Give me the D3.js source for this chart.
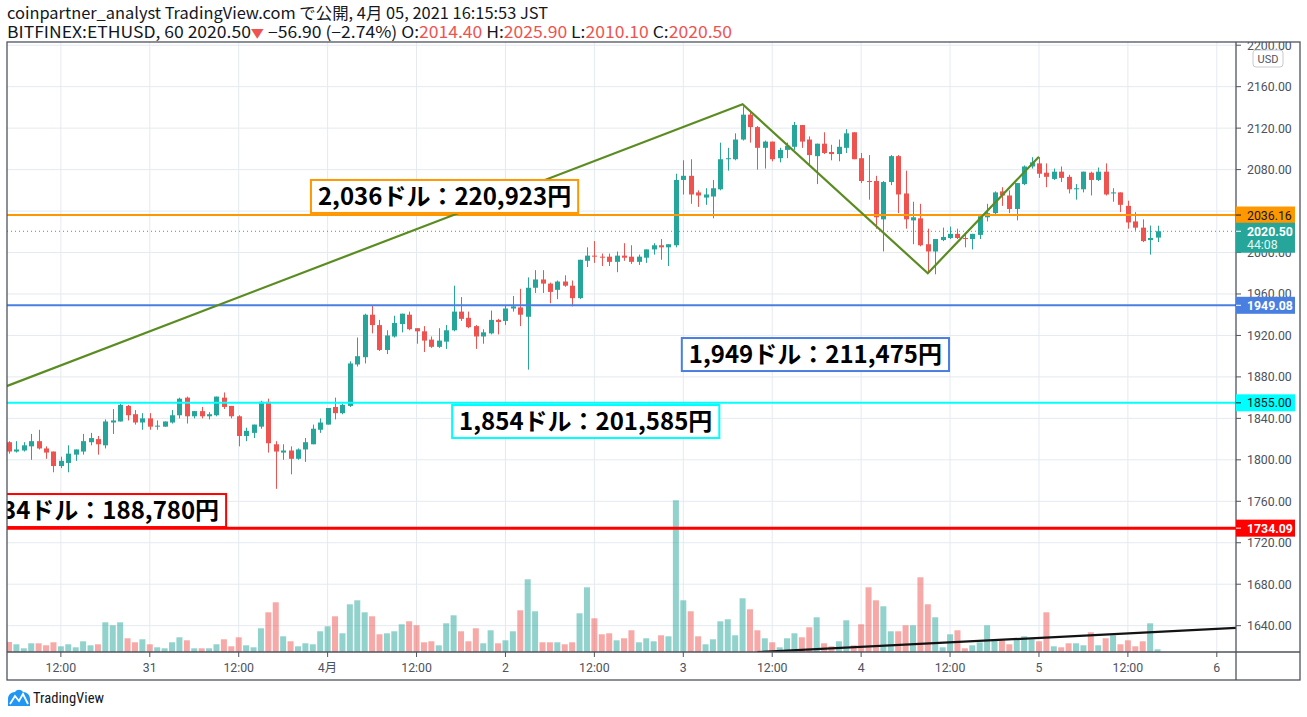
<!DOCTYPE html>
<html><head><meta charset="utf-8">
<script src="https://cdn.jsdelivr.net/npm/d3@7/dist/d3.min.js"></script>
<style>html,body{margin:0;padding:0;background:#fff;}svg{display:block;}</style>
</head><body>
<svg id="chart" width="1307" height="717"></svg>
<script>
// ---- DATA (hourly candles, BITFINEX:ETHUSD 60, from 3/30 05:00 JST) ----
const opens  = [1817,1808,1809,1813,1818,1811,1808,1794,1797,1805,1808,1817,1820,1814,1836,1837,1852,1844,1836,1840,1832,1832,1836,1843,1860,1842,1847,1842,1843,1860,1852,1842,1823,1826,1832,1856,1815,1807,1809,1801,1810,1815,1829,1834,1851,1845,1852,1892,1899,1940,1930,1906,1919,1931,1940,1927,1924,1916,1909,1914,1925,1943,1937,1929,1919,1922,1935,1934,1946,1947,1938,1966,1974,1970,1964,1972,1968,1956,1992,1997,1996,1996,1991,1997,1996,1991,1995,2003,2007,2005,2007,2070,2074,2058,2053,2054,2061,2090,2090,2109,2133,2121,2101,2107,2091,2099,2102,2123,2109,2093,2105,2097,2095,2101,2116,2091,2069,2069,2032,2068,2093,2057,2031,2033,2008,2001,2012,2014,2018,2014,2013,2017,2034,2038,2059,2055,2042,2066,2083,2086,2077,2071,2078,2073,2061,2061,2077,2070,2078,2057,2058,2045,2030,2024,2012,2014.4];
const highs  = [1818,1818,1817,1825,1829,1813,1808,1803,1814,1810,1825,1826,1823,1839,1849,1854,1853,1848,1845,1845,1838,1837,1848,1860,1861,1847,1851,1846,1861,1865,1852,1843,1831,1834,1857,1859,1818,1815,1813,1811,1821,1834,1840,1850,1860,1854,1895,1918,1941,1949,1935,1925,1939,1941,1943,1927,1929,1919,1927,1930,1968,1957,1943,1930,1926,1944,1936,1949,1958,1965,1976,1983,1983,1971,1973,1978,1973,1993,2005,2011,1999,1999,2001,2009,2007,1998,2003,2009,2013,2008,2076,2089,2090,2060,2062,2070,2106,2101,2115,2141,2136,2122,2108,2107,2101,2106,2126,2123,2112,2105,2116,2104,2109,2119,2116,2096,2094,2074,2069,2094,2094,2079,2049,2047,2023,2013,2024,2025,2023,2019,2018,2035,2047,2059,2063,2060,2067,2084,2092,2092,2086,2081,2083,2075,2066,2078,2078,2082,2086,2062,2058,2050,2039,2032,2026,2025.9];
const lows   = [1806,1807,1808,1800,1810,1801,1788,1792,1788,1799,1805,1814,1805,1811,1825,1837,1838,1834,1829,1829,1829,1832,1835,1840,1835,1840,1840,1839,1842,1849,1840,1813,1818,1821,1830,1807,1772,1800,1786,1800,1798,1815,1826,1834,1839,1844,1851,1890,1893,1922,1905,1902,1918,1923,1925,1912,1904,1908,1908,1907,1924,1934,1927,1907,1912,1921,1921,1930,1943,1929,1887,1961,1961,1951,1955,1967,1948,1955,1986,1990,1987,1987,1981,1992,1989,1988,1990,1998,1993,1987,2005,2056,2047,2044,2046,2033,2060,2079,2089,2108,2106,2080,2081,2088,2087,2091,2099,2101,2085,2066,2095,2089,2088,2096,2090,2067,2051,2023,2001,2065,2038,2023,2008,2006,1981,1979,2011,2013,2013,2005,2003,2013,2030,2037,2045,2038,2031,2065,2081,2072,2063,2070,2068,2057,2051,2058,2055,2069,2055,2049,2039,2023,2021,2010,1998,2010.1];
const closes = [1808,1810,1814,1818,1811,1807,1794,1799,1806,1810,1818,1821,1815,1837,1838,1853,1843,1836,1840,1832,1833,1837,1843,1859,1842,1847,1842,1844,1861,1851,1842,1823,1828,1834,1856,1816,1808,1809,1801,1810,1817,1830,1836,1850,1845,1853,1893,1900,1940,1930,1906,1920,1932,1941,1926,1924,1915,1909,1915,1925,1943,1936,1928,1919,1923,1935,1933,1946,1948,1940,1966,1974,1970,1962,1972,1968,1956,1993,1997,1996,1995,1991,1997,1995,1991,1996,2003,2007,2005,2008,2070,2074,2056,2055,2056,2062,2090,2091,2109,2133,2121,2101,2107,2090,2099,2103,2123,2107,2094,2105,2096,2095,2102,2115,2090,2069,2068,2034,2068,2093,2056,2032,2034,2007,2001,2013,2015,2018,2014,2013,2018,2035,2038,2058,2055,2042,2067,2083,2087,2076,2073,2078,2072,2061,2062,2078,2070,2078,2056,2058,2046,2029,2024,2011,2014,2020.5];
const volumes = [1000,770,370,870,870,670,970,570,770,470,1070,670,770,2970,2670,2970,1370,970,1270,770,470,370,970,1470,1170,370,370,370,770,1270,570,1470,670,470,2370,3970,4970,1570,1070,570,870,770,2070,2570,3570,1870,4770,5170,3970,3570,1770,1870,2070,2770,3070,2670,970,1070,670,2870,3670,2070,1070,2370,870,2170,870,1170,2070,4170,7270,4070,970,970,970,770,970,3870,6470,
 3370,1770,1870,1170,1370,2170,970,1370,1070,1670,1570,15170,5170,4070,1570,770,1270,3070,3270,1670,5370,4270,2170,1370,970,470,1370,1870,1470,2470,3470,870,570,1070,3170,670,2770,6470,5170,4570,2070,2070,2670,2670,7470,4770,3470,470,1770,2170,370,670,970,2670,1170,1170,770,1270,1570,1270,1070,3970,570,470,870,870,670,1970,670,1370,1670,770,1170,570,1070,2870,270];

// time axis: hours counted from the first candle (3/30 05:00)
const tickHours  = [7,19,31,43,55,67,79,91,103,115,127,139,151,163];
const tickLabels = ["12:00","31","12:00","4月","12:00","2","12:00","3","12:00","4","12:00","5","12:00","6"];
const priceTicks = [1640,1680,1720,1760,1800,1840,1880,1920,1960,2000,2040,2080,2120,2160,2200];

// horizontal levels and their notes
const levelPrices = [2036.16, 1949.08, 1855.00, 1734.09];
const levelNotes  = ["2,036ドル：220,923円","1,949ドル：211,475円","1,854ドル：201,585円","1,734ドル：188,780円"];
const noteHours   = [40.75, 90.8, 59.8, 29.3];
const notePrices  = [2070.0, 1917.5, 1852.9, 1767.0];

// drawn trend lines [hour, price]
const zigzag    = [[-2,1866.5],[99,2143],[124,1980],[139,2092.5]];
const blackLine = [[101,1614.5],[175,1641.2]];

const lastPrice = 2020.50;
const countdown = "44:08";

// ---- LAYOUT ----
const L = 7, R = 1236, T = 42, B = 652, RB = 1300, BB = 680;
const svg = d3.select("#chart");
const x = d3.scaleLinear().domain([-0.27, 165.59]).range([L, R]);
const y = d3.scaleLinear().domain([1614.6, 2203.1]).range([B, T]);
const yv = d3.scaleLinear().domain([0, 15170]).range([B, B - 151.7]);

const UP = "#26a69a", DOWN = "#ef5350";
const levelColors = ["#ff9800", "#4a7fe2", "#00ffff", "#ff0000"];
const levelWidths = [2, 2, 2, 3];
const levelTextColors = ["#131722", "#ffffff", "#131722", "#ffffff"];
const axisFont = "Roboto, 'Liberation Sans', sans-serif";
const jpFont = "'Noto Sans CJK JP', sans-serif";

svg.append("defs").append("clipPath").attr("id", "plot")
  .append("rect").attr("x", L).attr("y", T).attr("width", R - L).attr("height", B - T);
svg.select("defs").append("clipPath").attr("id", "axisclip")
  .append("rect").attr("x", R).attr("y", T).attr("width", RB - R).attr("height", B - T);

// grid
const grid = svg.append("g").attr("clip-path", "url(#plot)");
grid.selectAll(".hg").data(priceTicks).join("line")
  .attr("x1", L).attr("x2", R).attr("y1", d => y(d)).attr("y2", d => y(d))
  .attr("stroke", "#e4eaf0").attr("stroke-width", 1);
grid.selectAll(".vg").data(tickHours).join("line")
  .attr("y1", T).attr("y2", B).attr("x1", d => x(d)).attr("x2", d => x(d))
  .attr("stroke", "#e4eaf0").attr("stroke-width", 1);

const plot = svg.append("g").attr("clip-path", "url(#plot)");
const idx = d3.range(opens.length);
const isUp = i => closes[i] >= opens[i];

// volume
plot.selectAll(".vol").data(idx).join("rect")
  .attr("x", i => x(i) - 3).attr("width", 6)
  .attr("y", i => yv(volumes[i])).attr("height", i => B - yv(volumes[i]))
  .attr("fill", i => isUp(i) ? "rgba(38,166,154,0.5)" : "rgba(239,83,80,0.5)");

// last price dotted line
plot.append("line").attr("x1", L).attr("x2", R).attr("y1", y(lastPrice)).attr("y2", y(lastPrice))
  .attr("stroke", UP).attr("stroke-width", 1).attr("stroke-dasharray", "1,3");

// candles
plot.selectAll(".wick").data(idx).join("line")
  .attr("x1", i => Math.round(x(i)) + 0.5).attr("x2", i => Math.round(x(i)) + 0.5)
  .attr("y1", i => y(highs[i])).attr("y2", i => y(lows[i]))
  .attr("stroke", i => isUp(i) ? UP : DOWN).attr("stroke-width", 1);
plot.selectAll(".body").data(idx).join("rect")
  .attr("x", i => Math.round(x(i)) - 2).attr("width", 5)
  .attr("y", i => y(Math.max(opens[i], closes[i])))
  .attr("height", i => Math.max(1, Math.abs(y(opens[i]) - y(closes[i]))))
  .attr("fill", i => isUp(i) ? UP : DOWN);

// horizontal levels
plot.selectAll(".lvl").data(levelPrices).join("line")
  .attr("x1", L).attr("x2", R).attr("y1", d => y(d)).attr("y2", d => y(d))
  .attr("stroke", (d, k) => levelColors[k]).attr("stroke-width", (d, k) => levelWidths[k]);

// trend lines
const line = d3.line().x(d => x(d[0])).y(d => y(d[1]));
plot.append("path").attr("d", line(zigzag)).attr("fill", "none")
  .attr("stroke", "#5b8c22").attr("stroke-width", 2.2).attr("stroke-linejoin", "miter");
plot.append("path").attr("d", line(blackLine)).attr("fill", "none")
  .attr("stroke", "#131313").attr("stroke-width", 2.2);

// notes
levelNotes.forEach((t, k) => {
  const g = plot.append("g");
  const rect = g.append("rect");
  const txt = g.append("text").text(t)
    .attr("font-family", jpFont).attr("font-weight", 700).attr("font-size", 24)
    .attr("fill", "#000");
  const w = txt.node().getComputedTextLength();
  const bw = w + 14, bh = 33;
  const left = k === 3 ? x(noteHours[k]) - bw : x(noteHours[k]);
  const top = y(notePrices[k]);
  rect.attr("x", left).attr("y", top).attr("width", bw).attr("height", bh)
    .attr("fill", "#fff").attr("stroke", levelColors[k]).attr("stroke-width", 2);
  txt.attr("x", left + 7).attr("y", top + bh / 2 + 8.5);
});

// frame
const frame = svg.append("g").attr("fill", "none").attr("stroke", "#50535e").attr("stroke-width", 1.3);
frame.append("rect").attr("x", L).attr("y", T).attr("width", RB - L).attr("height", BB - T);
frame.append("line").attr("x1", R).attr("x2", R).attr("y1", T).attr("y2", BB);
frame.append("line").attr("x1", L).attr("x2", RB).attr("y1", B).attr("y2", B);

// price axis (labels fully hidden behind a level label are skipped)
const allLabels = levelPrices.concat([lastPrice]);
const hidden = d => allLabels.some(p => Math.abs(y(p) - y(d)) < 4.5);
const shownTicks = priceTicks.filter(d => !hidden(d));
const pa = svg.append("g").attr("clip-path", "url(#axisclip)");
pa.selectAll(".pt").data(priceTicks).join("line")
  .attr("x1", R).attr("x2", R + 5).attr("y1", d => y(d)).attr("y2", d => y(d))
  .attr("stroke", "#50535e");
pa.selectAll(".pl").data(shownTicks).join("text")
  .attr("x", R + 11).attr("y", d => y(d) + 4.5).text(d => d.toFixed(2))
  .attr("font-family", axisFont).attr("font-size", 12.3).attr("fill", "#4c525e");

// USD box
svg.append("rect").attr("x", 1253).attr("y", 50).attr("width", 30).attr("height", 17).attr("rx", 3)
  .attr("fill", "#fff").attr("stroke", "#c8cad0");
svg.append("text").attr("x", 1268).attr("y", 62.5).attr("text-anchor", "middle").text("USD")
  .attr("font-family", axisFont).attr("font-size", 11).attr("fill", "#50535e");

// level labels on axis
levelPrices.forEach((p, k) => {
  svg.append("rect").attr("x", R).attr("y", y(p) - 8.5).attr("width", 59).attr("height", 17)
    .attr("fill", levelColors[k]);
  svg.append("line").attr("x1", R).attr("x2", R + 5).attr("y1", y(p)).attr("y2", y(p))
    .attr("stroke", levelTextColors[k]);
  svg.append("text").attr("x", R + 11).attr("y", y(p) + 4.5).text(p.toFixed(2))
    .attr("font-family", axisFont).attr("font-size", 12.3)
    .attr("font-weight", levelTextColors[k] === "#ffffff" ? 700 : 400)
    .attr("fill", levelTextColors[k]);
});
// last price label
svg.append("rect").attr("x", R).attr("y", y(lastPrice) - 8.5).attr("width", 59).attr("height", 30).attr("fill", UP);
svg.append("line").attr("x1", R).attr("x2", R + 5).attr("y1", y(lastPrice)).attr("y2", y(lastPrice)).attr("stroke", "#fff");
svg.append("text").attr("x", R + 11).attr("y", y(lastPrice) + 4.5).text(lastPrice.toFixed(2))
  .attr("font-family", axisFont).attr("font-size", 12.3).attr("font-weight", 700).attr("fill", "#fff");
svg.append("text").attr("x", R + 11).attr("y", y(lastPrice) + 17.5).text(countdown)
  .attr("font-family", axisFont).attr("font-size", 12.3).attr("fill", "#e6f5f3");

// time axis
const ta = svg.append("g");
ta.selectAll(".tt").data(tickHours).join("line")
  .attr("x1", d => x(d)).attr("x2", d => x(d)).attr("y1", B).attr("y2", B + 5).attr("stroke", "#50535e");
ta.selectAll(".tl").data(tickHours).join("text")
  .attr("x", d => x(d)).attr("y", B + 19.5).attr("text-anchor", "middle")
  .text((d, k) => tickLabels[k])
  .attr("font-family", (d, k) => tickLabels[k] === "4月" ? jpFont : axisFont)
  .attr("font-size", 12.3).attr("fill", "#4c525e");

// header
svg.append("text").attr("x", 7).attr("y", 19)
  .attr("font-family", jpFont).attr("font-size", 16).attr("fill", "#131722")
  .attr("textLength", 541).attr("lengthAdjust", "spacingAndGlyphs")
  .text("coinpartner_analyst TradingView.com で公開, 4月 05, 2021 16:15:53 JST");
const h2 = svg.append("text").attr("x", 7).attr("y", 38)
  .attr("font-family", jpFont).attr("font-size", 16).attr("fill", "#131722")
  .attr("textLength", 725).attr("lengthAdjust", "spacingAndGlyphs");
const parts = [["BITFINEX:ETHUSD, 60 2020.50", "#131722"], ["▼", "#ef5350"], [" −56.90 (−2.74%) O:", "#131722"],
  ["2014.40", "#ef5350"], [" H:", "#131722"], ["2025.90", "#ef5350"], [" L:", "#131722"], ["2010.10", "#ef5350"],
  [" C:", "#131722"], ["2020.50", "#ef5350"]];
parts.forEach(p => h2.append("tspan").text(p[0]).attr("fill", p[1]).attr("font-size", p[0] === "▼" ? 12 : 16));

// TradingView logo
const logo = svg.append("g").attr("transform", "translate(8,689)");
logo.append("path").attr("d", "M0,17 L0,10 C0,6 3,3 7,3 C9,0 13,0 15,3 C19,3 22,6 22,10 L22,17 Z").attr("fill", "#2196f3");
logo.append("path").attr("d", "M2,15 L7,7 L11,12 L15,5 L20,15").attr("fill", "none").attr("stroke", "#fff").attr("stroke-width", 1.8);
svg.append("text").attr("x", 33).attr("y", 703).text("TradingView")
  .attr("font-family", "'Liberation Sans Narrow', 'Roboto Condensed', Roboto, sans-serif").attr("font-size", 14)
  .attr("textLength", 71).attr("lengthAdjust", "spacingAndGlyphs").attr("fill", "#131722");
</script>
</body></html>
